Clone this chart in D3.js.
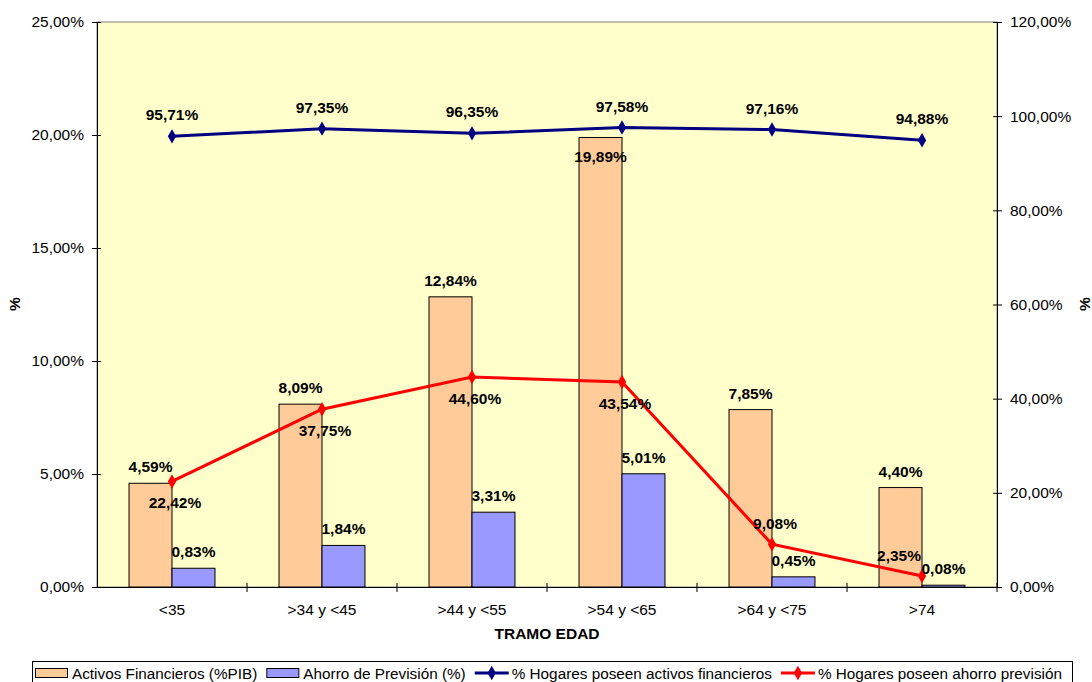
<!DOCTYPE html>
<html>
<head>
<meta charset="utf-8">
<script src="https://cdn.jsdelivr.net/npm/d3@7"></script>
<style>
  body { margin: 0; background: #fff; }
  svg { display: block; font-family: Arial, "Liberation Sans", sans-serif; }
</style>
</head>
<body>
<svg width="1092" height="682"></svg>
<script>
// data
var categories = ["<35", ">34 y <45", ">44 y <55", ">54 y <65", ">64 y <75", ">74"];
var activos = [4.59, 8.09, 12.84, 19.89, 7.85, 4.40];
var ahorro = [0.83, 1.84, 3.31, 5.01, 0.45, 0.08];
var hogaresActivos = [95.71, 97.35, 96.35, 97.58, 97.16, 94.88];
var hogaresAhorro = [22.42, 37.75, 44.60, 43.54, 9.08, 2.35];
var leftTicks = [0, 5, 10, 15, 20, 25];
var rightTicks = [0, 20, 40, 60, 80, 100, 120];

var svg = d3.select("svg"),
    margin = {top: 22, right: 95, bottom: 95, left: 97},
    w = +svg.attr("width") - margin.left - margin.right,
    h = +svg.attr("height") - margin.top - margin.bottom;

var FS = "15.5px";
var fmt = function(v) { return d3.format(".2f")(v).replace(".", ",") + "%"; };

var x = d3.scaleBand().domain(categories).range([0, w]);
var xSub = d3.scaleBand().domain(["activos", "ahorro"]).range([0, x.bandwidth()]).paddingOuter(0.745);
var y = d3.scaleLinear().domain([0, 25]).range([h, 0]);
var y2 = d3.scaleLinear().domain([0, 120]).range([h, 0]);

var g = svg.append("g")
    .attr("transform", "translate(" + margin.left + "," + margin.top + ")");

// plot background
g.append("rect")
    .attr("width", w).attr("height", h)
    .attr("fill", "#FFFFCC")
    .attr("stroke", "#808080");

// bars
var barSeries = [
  {key: "activos", values: activos, color: "#FFCC99"},
  {key: "ahorro", values: ahorro, color: "#9999FF"}
];

barSeries.forEach(function(s) {
  g.selectAll(".bar-" + s.key)
    .data(s.values)
    .enter().append("rect")
      .attr("x", function(d, i) { return x(categories[i]) + xSub(s.key); })
      .attr("y", function(d) { return y(d); })
      .attr("width", xSub.bandwidth())
      .attr("height", function(d) { return h - y(d); })
      .attr("fill", s.color)
      .attr("stroke", "#000")
      .attr("stroke-width", 1);
});

// axes
var yAxis = g.append("g")
    .call(d3.axisLeft(y).tickValues(leftTicks).tickFormat(fmt).tickSizeInner(5).tickSizeOuter(0).tickPadding(8));
yAxis.selectAll(".tick line").attr("x1", 4);

var y2Axis = g.append("g")
    .attr("transform", "translate(" + w + ",0)")
    .call(d3.axisRight(y2).tickValues(rightTicks).tickFormat(fmt).tickSizeInner(5).tickSizeOuter(0).tickPadding(8));
y2Axis.selectAll(".tick line").attr("x1", -4);

var xAxis = g.append("g")
    .attr("transform", "translate(0," + h + ")")
    .call(d3.axisBottom(x).tickSize(0).tickSizeOuter(0).tickPadding(17));

// category boundary ticks
g.selectAll(".cat-tick")
  .data(categories.slice(1).concat(["end"]))
  .enter().append("line")
    .attr("x1", function(d) { return d === "end" ? w : x(d); })
    .attr("x2", function(d) { return d === "end" ? w : x(d); })
    .attr("y1", h - 4).attr("y2", h + 5)
    .attr("stroke", "#000");

svg.selectAll(".domain").attr("stroke", "#000");
svg.selectAll(".tick line").attr("stroke", "#000");
svg.selectAll(".tick text")
    .attr("font-size", FS)
    .attr("font-family", "Arial, 'Liberation Sans', sans-serif")
    .attr("fill", "#000");

// lines
var cx = function(i) { return x(categories[i]) + x.bandwidth() / 2; };
var lineSeries = [
  {key: "activosH", values: hogaresActivos, color: "#000080"},
  {key: "ahorroH", values: hogaresAhorro, color: "#FF0000"}
];

var line = d3.line()
    .x(function(d, i) { return cx(i); })
    .y(function(d) { return y2(d); });

var diamond = d3.symbol().type(d3.symbolDiamond).size(60);

lineSeries.forEach(function(s) {
  g.append("path")
    .datum(s.values)
    .attr("fill", "none")
    .attr("stroke", s.color)
    .attr("stroke-width", 3)
    .attr("d", line);

  g.selectAll(".pt-" + s.key)
    .data(s.values)
    .enter().append("path")
      .attr("d", diamond)
      .attr("transform", function(d, i) { return "translate(" + cx(i) + "," + y2(d) + ")"; })
      .attr("fill", s.color);
});

// data labels
function labels(values, px, py, anchor) {
  g.selectAll(null)
    .data(values)
    .enter().append("text")
      .attr("x", px)
      .attr("y", py)
      .attr("text-anchor", anchor || "middle")
      .attr("font-size", FS)
      .attr("font-weight", "bold")
      .attr("fill", "#000")
      .text(fmt);
}

var last = categories.length - 1;
labels(activos, function(d, i) { return x(categories[i]) + xSub("activos") + xSub.bandwidth() / 2; },
       function(d) { return d > 18 ? y(d) + 25 : y(d) - 11; });
labels(ahorro, function(d, i) { return x(categories[i]) + xSub("ahorro") + xSub.bandwidth() / 2; },
       function(d) { return y(d) - 11; });
labels(hogaresActivos, function(d, i) { return cx(i); }, function(d) { return y2(d) - 16; });
labels(hogaresAhorro, function(d, i) { return i === last ? cx(i) - 1 : cx(i) + 3; },
       function(d) { return d > 20 ? y2(d) + 27 : y2(d) - 15; },
       function(d, i) { return i === last ? "end" : "middle"; });

// axis titles
svg.append("text")
    .attr("x", 547).attr("y", 639)
    .attr("text-anchor", "middle")
    .attr("font-size", FS).attr("font-weight", "bold")
    .text("TRAMO EDAD");

svg.append("text")
    .attr("transform", "translate(20,304) rotate(-90)")
    .attr("text-anchor", "middle")
    .attr("font-size", FS).attr("font-weight", "bold")
    .text("%");

svg.append("text")
    .attr("transform", "translate(1090,304) rotate(-90)")
    .attr("text-anchor", "middle")
    .attr("font-size", FS).attr("font-weight", "bold")
    .text("%");

// legend
var legendItems = [
  {label: "Activos Financieros (%PIB)", type: "rect", color: "#FFCC99"},
  {label: "Ahorro de Previsión (%)", type: "rect", color: "#9999FF"},
  {label: "% Hogares poseen activos financieros", type: "line", color: "#000080"},
  {label: "% Hogares poseen ahorro previsión", type: "line", color: "#FF0000"}
];

var legend = svg.append("g");
legend.append("rect")
    .attr("x", 32.5).attr("y", 661.5)
    .attr("width", 1040).attr("height", 24)
    .attr("fill", "#fff").attr("stroke", "#000");

var lx = 35, ly = 673;
legendItems.forEach(function(it) {
  if (it.type === "rect") {
    legend.append("rect")
      .attr("x", lx + 0.5).attr("y", ly - 4.5)
      .attr("width", 32).attr("height", 9)
      .attr("fill", it.color).attr("stroke", "#000");
  } else {
    legend.append("line")
      .attr("x1", lx).attr("x2", lx + 34)
      .attr("y1", ly).attr("y2", ly)
      .attr("stroke", it.color).attr("stroke-width", 3);
    legend.append("path")
      .attr("d", diamond)
      .attr("transform", "translate(" + (lx + 17) + "," + ly + ")")
      .attr("fill", it.color);
  }
  var t = legend.append("text")
      .attr("x", lx + 37).attr("y", ly + 5.5)
      .attr("font-size", "15.3px")
      .attr("fill", "#000")
      .text(it.label);
  lx = lx + 37 + t.node().getComputedTextLength() + 9;
});
</script>
</body>
</html>
